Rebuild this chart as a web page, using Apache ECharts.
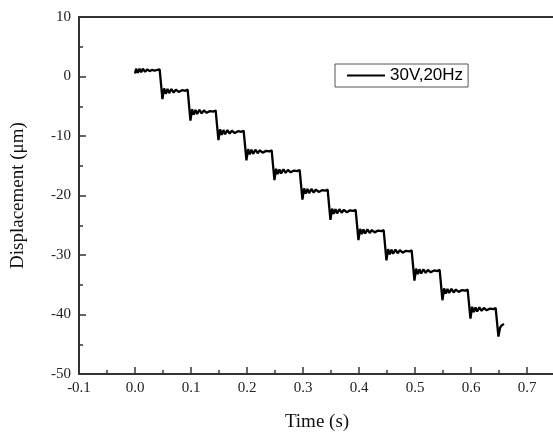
<!DOCTYPE html>
<html><head><meta charset="utf-8">
<script src="https://cdn.jsdelivr.net/npm/echarts@6/dist/echarts.min.js"></script>
<style>html,body{margin:0;padding:0;background:#fff}#c{width:553px;height:439px}</style>
</head><body><div id="c"></div>
<script>
const seriesName = '30V,20Hz';
const timeS = [
  0.000,0.002,0.005,0.008,0.011,0.014,0.018,0.022,0.026,0.030,0.035,0.040,0.044,
  0.049,0.052,0.055,0.058,0.061,0.065,0.069,0.073,0.078,0.084,0.090,0.094,
  0.099,0.102,0.105,0.108,0.111,0.115,0.119,0.123,0.128,0.134,0.140,0.144,
  0.149,0.152,0.155,0.158,0.161,0.165,0.169,0.173,0.178,0.184,0.190,0.194,
  0.199,0.202,0.205,0.208,0.211,0.215,0.219,0.223,0.228,0.234,0.240,0.244,
  0.249,0.252,0.255,0.258,0.261,0.265,0.269,0.273,0.278,0.284,0.290,0.294,
  0.299,0.302,0.305,0.308,0.311,0.315,0.319,0.323,0.328,0.334,0.340,0.344,
  0.349,0.352,0.355,0.358,0.361,0.365,0.369,0.373,0.378,0.384,0.390,0.394,
  0.399,0.402,0.405,0.408,0.411,0.415,0.419,0.423,0.428,0.434,0.440,0.444,
  0.449,0.452,0.455,0.458,0.461,0.465,0.469,0.473,0.478,0.484,0.490,0.494,
  0.499,0.502,0.505,0.508,0.511,0.515,0.519,0.523,0.528,0.534,0.540,0.544,
  0.549,0.552,0.555,0.558,0.561,0.565,0.569,0.573,0.578,0.584,0.590,0.594,
  0.599,0.602,0.605,0.608,0.611,0.615,0.619,0.623,0.628,0.634,0.640,0.644,
  0.649,0.652,0.655,0.657,0.659
];
const dispUm = [
  0.5,1.3,0.6,1.3,0.7,1.3,0.8,1.2,0.9,1.1,1.0,1.1,1.2,
  -3.8,-2.0,-2.9,-2.1,-2.8,-2.1,-2.7,-2.2,-2.6,-2.3,-2.4,-2.2,
  -7.4,-5.5,-6.4,-5.6,-6.3,-5.6,-6.2,-5.7,-6.1,-5.8,-5.9,-5.7,
  -10.7,-8.9,-9.8,-9.0,-9.7,-9.0,-9.6,-9.1,-9.5,-9.2,-9.3,-9.1,
  -14.1,-12.2,-13.1,-12.3,-13.0,-12.3,-12.9,-12.4,-12.8,-12.5,-12.6,-12.4,
  -17.4,-15.5,-16.4,-15.6,-16.3,-15.6,-16.2,-15.7,-16.1,-15.8,-15.9,-15.7,
  -20.7,-18.8,-19.7,-18.9,-19.6,-18.9,-19.5,-19.0,-19.4,-19.1,-19.2,-19.0,
  -24.1,-22.2,-23.1,-22.3,-23.0,-22.3,-22.9,-22.4,-22.8,-22.5,-22.6,-22.4,
  -27.5,-25.6,-26.5,-25.7,-26.4,-25.7,-26.3,-25.8,-26.2,-25.9,-26.0,-25.8,
  -30.9,-29.0,-29.9,-29.1,-29.8,-29.1,-29.7,-29.2,-29.6,-29.3,-29.4,-29.2,
  -34.3,-32.3,-33.2,-32.4,-33.1,-32.4,-33.0,-32.5,-32.9,-32.6,-32.7,-32.5,
  -37.6,-35.6,-36.5,-35.7,-36.4,-35.7,-36.3,-35.8,-36.2,-35.9,-36.0,-35.8,
  -40.7,-38.7,-39.6,-38.8,-39.5,-38.8,-39.4,-38.9,-39.3,-39.0,-39.1,-38.9,
  -43.7,-42.2,-41.8,-41.9,-41.6
];
const xRange = [-0.1, 0.75];
const yRange = [-50, 10];

const data = timeS.map((t, i) => [t, dispUm[i]]);
const serif = 'Liberation Serif';
const axisCol = '#333';

const chart = echarts.init(document.getElementById('c'), null, {renderer: 'canvas'});
chart.setOption({
  animation: false,
  backgroundColor: '#fff',
  grid: {left: 79, top: 17, width: 476, height: 357, outerBoundsMode: 'none', containLabel: false},
  legend: {
    data: [{name: seriesName, icon: 'rect'}],
    left: 335, top: 64,
    padding: [3, 5, 3, 12],
    borderColor: '#555', borderWidth: 1, borderRadius: 0,
    itemWidth: 38, itemHeight: 2,
    itemStyle: {color: '#000'},
    textStyle: {fontFamily: 'Liberation Sans', fontSize: 17, color: '#000', lineHeight: 17}
  },
  xAxis: [{
    type: 'value', min: xRange[0], max: xRange[1], interval: 0.1,
    name: 'Time (s)', nameLocation: 'middle', nameGap: 39,
    nameTextStyle: {fontFamily: serif, fontSize: 19, color: '#111'},
    axisLine: {show: true, onZero: false, lineStyle: {color: axisCol, width: 2}},
    axisTick: {show: true, inside: true, length: 7, lineStyle: {color: axisCol, width: 1.5}},
    minorTick: {show: true, splitNumber: 2, length: 4, lineStyle: {color: axisCol, width: 1.5}},
    splitLine: {show: false},
    axisLabel: {fontFamily: serif, fontSize: 15, color: '#222', margin: 7, showMaxLabel: false,
      formatter: v => v.toFixed(1)}
  }, {
    type: 'value', position: 'top', min: xRange[0], max: xRange[1],
    axisLine: {show: true, onZero: false, lineStyle: {color: axisCol, width: 2}},
    axisTick: {show: false}, axisLabel: {show: false}, splitLine: {show: false}
  }],
  yAxis: {
    type: 'value', min: yRange[0], max: yRange[1], interval: 10,
    name: 'Displacement (\u03bcm)', nameLocation: 'middle', nameGap: 51,
    nameTextStyle: {fontFamily: serif, fontSize: 19, color: '#111'},
    axisLine: {show: true, onZero: false, lineStyle: {color: axisCol, width: 2}},
    axisTick: {show: true, inside: true, length: 7, lineStyle: {color: axisCol, width: 1.5}},
    minorTick: {show: true, splitNumber: 2, length: 4, lineStyle: {color: axisCol, width: 1.5}},
    splitLine: {show: false},
    axisLabel: {fontFamily: serif, fontSize: 15, color: '#222', margin: 8}
  },
  series: [{
    name: seriesName, type: 'line', data: data,
    symbol: 'none', showSymbol: false, smooth: false,
    lineStyle: {color: '#000', width: 2.3},
    itemStyle: {color: '#000'}
  }]
});
</script></body></html>
